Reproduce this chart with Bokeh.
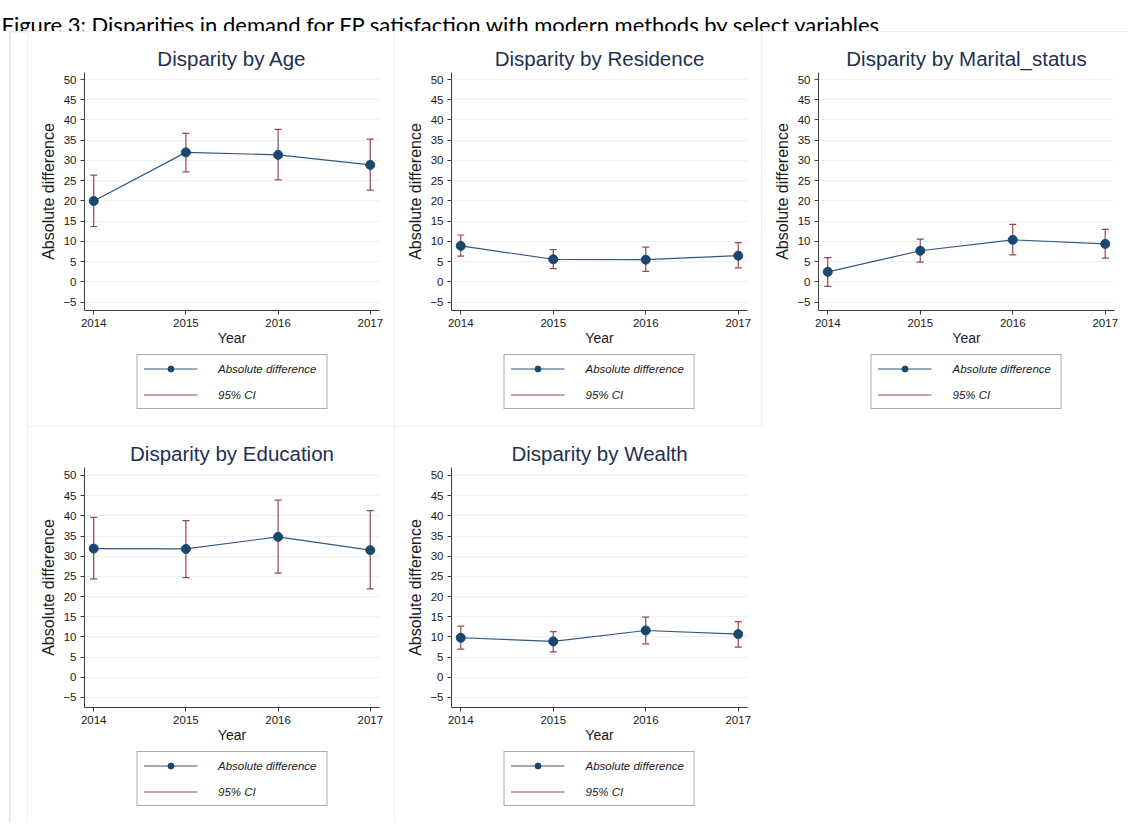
from bokeh.plotting import figure
from bokeh.models import (Range1d, FixedTicker, Legend, LegendItem, Label, Spacer,
                          ColumnDataSource)
from bokeh.layouts import column, row
from bokeh.embed import file_html
from bokeh.resources import INLINE

# ---------------- data ----------------
caption = "Figure 3: Disparities in demand for FP satisfaction with modern methods by select variables"
years = [2014, 2015, 2016, 2017]
y_ticks = [-5, 0, 5, 10, 15, 20, 25, 30, 35, 40, 45, 50]

titles = ["Disparity by Age", "Disparity by Residence", "Disparity by Marital_status",
          "Disparity by Education", "Disparity by Wealth"]

age_diff = [20.0, 32.0, 31.4, 28.9]
age_lo = [13.7, 27.2, 25.2, 22.7]
age_hi = [26.4, 36.7, 37.7, 35.3]

res_diff = [8.9, 5.6, 5.5, 6.5]
res_lo = [6.4, 3.3, 2.6, 3.5]
res_hi = [11.6, 8.0, 8.6, 9.7]

mar_diff = [2.5, 7.7, 10.4, 9.4]
mar_lo = [-1.1, 4.9, 6.7, 5.9]
mar_hi = [6.0, 10.6, 14.2, 13.0]

edu_diff = [31.9, 31.8, 34.8, 31.5]
edu_lo = [24.4, 24.7, 25.8, 21.9]
edu_hi = [39.6, 38.8, 43.9, 41.3]

wea_diff = [9.8, 8.9, 11.6, 10.7]
wea_lo = [7.0, 6.3, 8.3, 7.5]
wea_hi = [12.7, 11.3, 14.9, 13.8]

# ---------------- style ----------------
FONT = "Liberation Sans"
LINE_C = "#33597f"
DOT_C = "#1a476f"
CI_C = "#9a4650"
AXIS_C = "#3c3c3c"
TXT_C = "#1a1a1a"
TITLE_C = "#1e3050"
PANEL_STYLE = {"outline": "1px solid #e6eceb", "outline-offset": "-1px"}


def draw_series(fig, src):
    seg = fig.segment(x0="year", y0="lo", x1="year", y1="hi", source=src,
                      line_color=CI_C, line_width=1.2)
    fig.scatter("year", "lo", source=src, marker="dash", size=7,
                line_color=CI_C, line_width=1.2)
    fig.scatter("year", "hi", source=src, marker="dash", size=7,
                line_color=CI_C, line_width=1.2)
    ln = fig.line("year", "diff", source=src, line_color=LINE_C, line_width=1.2)
    pts = fig.scatter("year", "diff", source=src, size=9, fill_color=DOT_C,
                      line_color=DOT_C)
    return seg, ln, pts


def make_panel(title, diff, lo, hi, width, plot_h, leg_h, ylo, yhi, right):
    src = ColumnDataSource(dict(year=years, diff=diff, lo=lo, hi=hi))

    p = figure(width=width, height=plot_h, output_backend="svg", toolbar_location=None,
               x_range=Range1d(2013.9, 2017.1), y_range=Range1d(ylo, yhi),
               min_border_left=57, min_border_right=right,
               min_border_top=41, min_border_bottom=40, title=title)
    p.outline_line_color = None
    p.title.text_font = FONT
    p.title.text_font_size = "20.5px"
    p.title.text_font_style = "normal"
    p.title.text_color = TITLE_C
    p.title.align = "center"
    p.title.standoff = 6

    p.xaxis.ticker = FixedTicker(ticks=years)
    p.yaxis.ticker = FixedTicker(ticks=y_ticks)
    p.ygrid.ticker = FixedTicker(ticks=y_ticks)
    p.xgrid.visible = False
    p.ygrid.grid_line_color = "#eef1f1"
    p.ygrid.grid_line_width = 1

    for ax in (p.xaxis[0], p.yaxis[0]):
        ax.axis_line_color = AXIS_C
        ax.major_tick_line_color = AXIS_C
        ax.major_tick_out = 4
        ax.major_tick_in = 0
        ax.minor_tick_out = 0
        ax.minor_tick_in = 0
        ax.major_label_text_font = FONT
        ax.major_label_text_font_size = "11.5px"
        ax.major_label_text_color = TXT_C
        ax.major_label_standoff = 4
        ax.axis_label_text_font = FONT
        ax.axis_label_text_font_style = "normal"
        ax.axis_label_text_color = TXT_C
    p.xaxis.axis_label = "Year"
    p.xaxis.axis_label_text_font_size = "14px"
    p.xaxis.axis_label_standoff = 0
    p.yaxis.axis_label = "Absolute difference"
    p.yaxis.axis_label_text_font_size = "16px"
    p.yaxis.axis_label_standoff = 3

    draw_series(p, src)

    # legend lives in its own strip under the plot; its renderers use the same
    # data but sit outside the strip's ranges, so only the legend shows
    lg = figure(width=width, height=leg_h, output_backend="svg", toolbar_location=None,
                x_range=Range1d(0, 1), y_range=Range1d(0, 1),
                x_axis_type=None, y_axis_type=None,
                min_border_left=57, min_border_right=right,
                min_border_top=0, min_border_bottom=0)
    lg.outline_line_color = None
    lg.xgrid.visible = False
    lg.ygrid.visible = False
    seg, ln, pts = draw_series(lg, src)
    legend = Legend(items=[LegendItem(label="Absolute difference", renderers=[ln, pts]),
                           LegendItem(label="95% CI", renderers=[seg])],
                    location="top_center", orientation="vertical",
                    border_line_color="#555555", border_line_width=1,
                    background_fill_color="white", background_fill_alpha=1,
                    label_text_font=FONT, label_text_font_size="11.5px",
                    label_text_font_style="italic", label_text_color=TXT_C,
                    padding=6, spacing=11, glyph_width=54, glyph_height=15,
                    label_standoff=21, label_width=102, label_height=15,
                    margin=4)
    lg.add_layout(legend, "center")
    return column(p, lg, styles=PANEL_STYLE)


p1 = make_panel(titles[0], age_diff, age_lo, age_hi, 367, 319, 76, -7.05, 51.73, 15)
p2 = make_panel(titles[1], res_diff, res_lo, res_hi, 367, 319, 76, -7.05, 51.73, 14)
p3 = make_panel(titles[2], mar_diff, mar_lo, mar_hi, 368, 319, 76, -7.05, 51.73, 15)
p4 = make_panel(titles[3], edu_diff, edu_lo, edu_hi, 367, 321, 75, -7.48, 51.98, 15)
p5 = make_panel(titles[4], wea_diff, wea_lo, wea_hi, 367, 321, 75, -7.48, 51.98, 14)

header = figure(width=1129, height=31, x_range=Range1d(0, 1129), y_range=Range1d(31, 0),
                toolbar_location=None, output_backend="svg", min_border=0,
                x_axis_type=None, y_axis_type=None)
header.outline_line_color = None
header.xgrid.visible = False
header.ygrid.visible = False
header.add_layout(Label(x=1, y=24, text=caption, text_font="Lato", text_font_size="22px",
                        text_baseline="alphabetic", text_align="left", text_color="#000000"))

grid = column(row(p1, p2, p3), row(p4, p5))
box = column(row(Spacer(width=18, height=791), grid),
             styles={"box-shadow": "inset 1.5px 1.5px 0 0 #e0e8e6"})
root = column(header, row(Spacer(width=9, height=791), box))

open("out.html", "w").write(file_html(root, INLINE))
